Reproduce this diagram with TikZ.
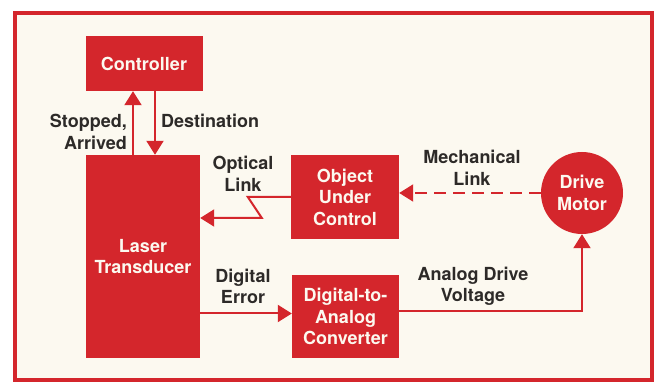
\documentclass[tikz,border=0pt]{standalone}
\usepackage{fontspec}
\setmainfont{TeX Gyre Heros}
\usetikzlibrary{arrows.meta}
\definecolor{hpred}{RGB}{212,38,44}
\definecolor{paper}{RGB}{252,249,240}
\definecolor{ink}{RGB}{45,42,40}
\begin{document}
\begin{tikzpicture}[>={Triangle[length=14pt,width=17pt]},x=1pt,y=1pt,
	blok/.style={fill=hpred,text=paper,font=\bfseries\fontsize{18}{21.5}\selectfont,align=center,inner sep=0pt},
	lbl/.style={text=ink,font=\bfseries\fontsize{18}{21.5}\selectfont,align=center,inner sep=0pt},
	flow/.style={hpred,line width=2pt,->}]
		\useasboundingbox[fill=white] (0,0) rectangle (659,390);
		\draw[hpred,line width=4.5pt,fill=paper] (15,10) rectangle (652,377); % Khung ngoai
		
		\node[blok,minimum width=117,minimum height=55] (ctrl) at (144,326.5) {Controller};
		\node[blok,minimum width=114,minimum height=203] (laser) at (143,133.5) {Laser\\Transducer};
		\node[blok,minimum width=108,minimum height=84] (ouc) at (345,193) {Object\\Under\\Control};
		\node[blok,minimum width=107,minimum height=83] (dac) at (345.5,73.5) {Digital-to-\\Analog\\Converter};
		\node[blok,circle,minimum size=82] (motor) at (582,197) {Drive\\Motor};
		
		\draw[flow] ([xshift=-10pt]laser.north) -- ([xshift=-11pt]ctrl.south); % Stopped, Arrived
		\draw[flow] ([xshift=11pt]ctrl.south) -- ([xshift=12pt]laser.north); % Destination
		\draw[flow] (ouc.west) -- ++(-43,0) coordinate (zA) -- ++(14,-21) coordinate (zB) -- (zB -| laser.east); % Optical link
		\draw[flow,dash pattern=on 12pt off 7pt] (motor.west) -- (motor.west -| ouc.east);
		\draw[flow] ([yshift=3pt]dac.west -| laser.east) -- ([yshift=3pt]dac.west);
		\draw[flow] ([yshift=5pt]dac.east) -| (motor.south);
		
		\node[lbl,anchor=east,align=right] (l1) at (127,258) {Stopped,\\Arrived};
		\node[lbl,anchor=west,align=left] (l2) at (161,269) {Destination};
		\node[lbl] (l3) at (243,216) {Optical\\Link};
		\node[lbl] (l4) at (472,222) {Mechanical\\Link};
		\node[lbl] (l5) at (243,103.5) {Digital\\Error};
		\node[lbl] (l6) at (473,103.5) {Analog Drive\\Voltage};
		\end{tikzpicture}
\end{document}
